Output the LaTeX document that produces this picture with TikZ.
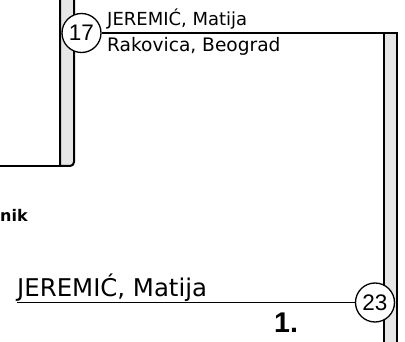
\documentclass[tikz,border=0pt]{standalone}
\usepackage{fontspec}
\setmainfont{DejaVu Sans}
\newfontfamily\digitfont{Liberation Sans}
\definecolor{bargray}{HTML}{E6E6E6}
\tikzset{
  bar/.style={fill=bargray, draw=black, line width=2pt},
  link/.style={draw=black, line width=1.8pt},
  badge/.style={circle, draw=black, fill=white, line width=1.3pt, minimum size=39pt, inner sep=0pt, font=\digitfont\fontsize{22.5}{22.5}\selectfont},
  lbl/.style={inner sep=0pt, anchor=base west}
}
\begin{document}
\begin{tikzpicture}[x=1pt, y=-1pt]
\useasboundingbox (0,0) rectangle (405,342);
% left bar (shadow side of a box)
\draw[bar] (60,-5) -- (60,166) -- (70,166) [rounded corners=4pt] -- (74,166) -- (74,-5);
\draw[link] (-2,166) -- (60,166);
% right bar
\fill[bargray] (384,33) rectangle (397,346);
\draw[line width=2pt] (384,33) -- (384,346);
\draw[line width=2pt] (397,33) -- (397,346);
% nodes
\node[badge] (c17) at (81.5,33) {17};
\coordinate (r17) at (397.5,33);
\draw[link] (c17) -- (r17);
\node[lbl, font=\fontsize{18}{18}\selectfont] (n1) at (107,26) {JEREMIĆ, Matija};
\node[lbl, font=\fontsize{18.6}{18.6}\selectfont] (p1) at (107,52) {Rakovica, Beograd};
\node[lbl, font=\bfseries\fontsize{16}{16}\selectfont] (nik) at (0,222) {nik};
\node[badge] (c23) at (375,302.5) {23};
\coordinate (l23) at (17,302.5);
\draw[link] (c23) -- (l23);
\node[lbl, font=\fontsize{24.4}{24.4}\selectfont] (n2) at (17,296.5) {JEREMIĆ, Matija};
\node[lbl, font=\digitfont\bfseries\fontsize{28.5}{28.5}\selectfont] (num) at (274,333) {1.};
\end{tikzpicture}
\end{document}
